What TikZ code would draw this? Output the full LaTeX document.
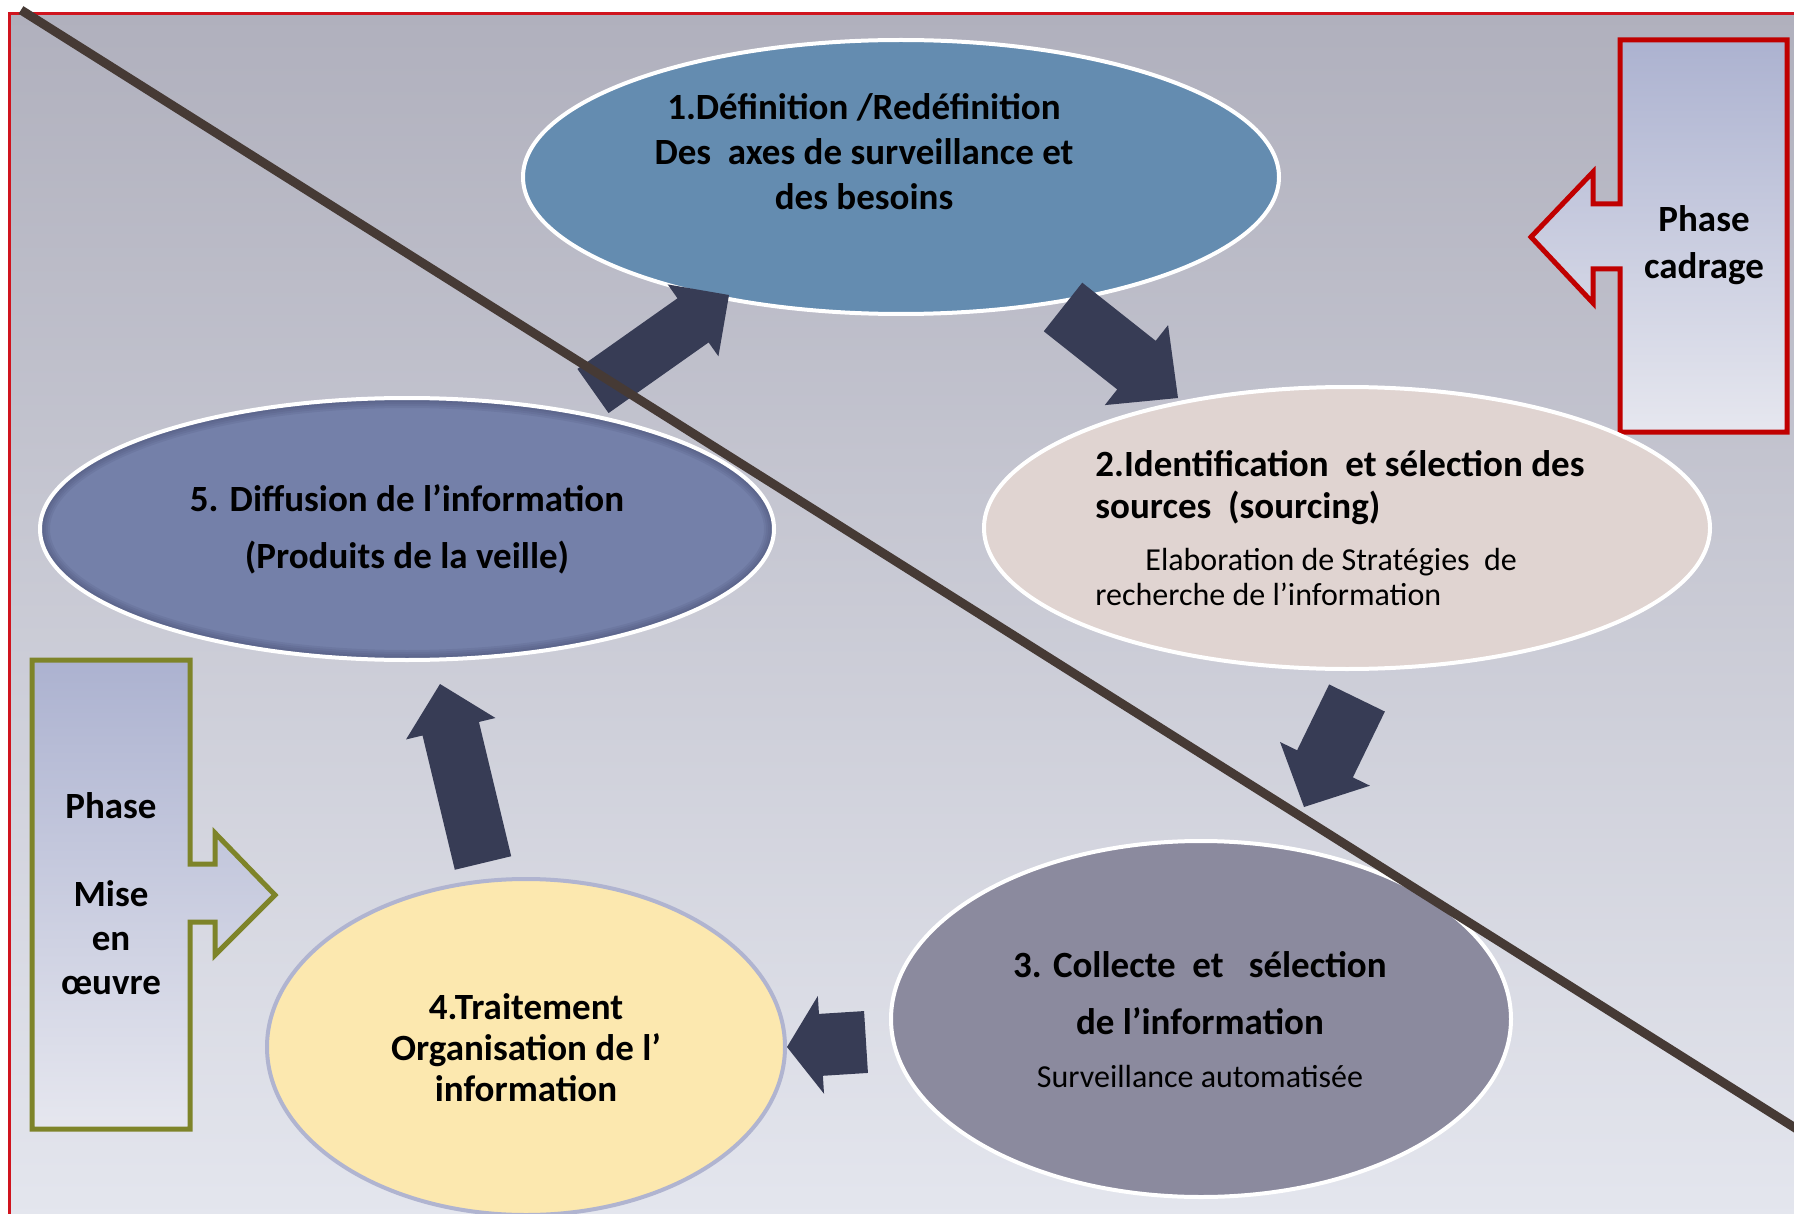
\documentclass[tikz,border=0pt]{standalone}
\usepackage{fontspec}
\setmainfont{Carlito}
\usetikzlibrary{shapes.geometric,calc}
\definecolor{bgtop}{HTML}{B0B0BD}
\definecolor{bgbot}{HTML}{E4E6EE}
\definecolor{framered}{HTML}{D0141E}
\definecolor{cadred}{HTML}{C00000}
\definecolor{olive}{HTML}{7E8429}
\definecolor{boxtop}{HTML}{ACB2D0}
\definecolor{boxbot}{HTML}{E6E7EF}
\definecolor{cone}{HTML}{648CB0}
\definecolor{ctwo}{HTML}{E0D4D1}
\definecolor{cthree}{HTML}{8B8A9E}
\definecolor{cfour}{HTML}{FCE8AF}
\definecolor{cfourrim}{HTML}{B0B4D0}
\definecolor{cfive}{HTML}{7480A9}
\definecolor{cfiveshadow}{HTML}{3E4668}
\definecolor{arrowcol}{HTML}{373C55}
\definecolor{diagcol}{HTML}{463A35}
\newcommand{\blockarr}[5]{%
  \coordinate (ba-h) at ($(#2)!#5!(#1)$);
  \fill[arrowcol] ($(#1)!#3!90:(#2)$) -- ($(ba-h)!#3!90:(#2)$) -- ($(ba-h)!#4!90:(#2)$)
    -- (#2) -- ($(ba-h)!#4!-90:(#2)$) -- ($(ba-h)!#3!-90:(#2)$) -- ($(#1)!#3!-90:(#2)$) -- cycle;}
\begin{document}
\begin{tikzpicture}[x=0.5pt,y=-0.5pt,
  bubble/.style={ellipse, draw=white, line width=2pt, inner sep=0pt},
  btxt/.style={font=\fontsize{18.5}{22.5}\selectfont\bfseries, align=center, inner sep=0pt},
  rtxt/.style={font=\fontsize{16}{17.5}\selectfont, align=center, inner sep=0pt},
  phasebox/.style={top color=boxtop, bottom color=boxbot, line width=2.5pt, line join=miter}]
\useasboundingbox (0,0) rectangle (1794,1214);
\fill[white] (0,0) rectangle (1794,1214);
\shade[top color=bgtop, bottom color=bgbot] (9,13) rectangle (1800,1220);
\draw[framered, line width=1.3pt] (9.5,1220) -- (9.5,13.5) -- (1800,13.5);

% phase boxes
\path[phasebox, draw=cadred] (1620,40) -- (1787,40) -- (1787,432) -- (1620,432) -- (1620,269)
  -- (1593,269) -- (1593,303) -- (1531,237) -- (1593,172) -- (1593,204) -- (1620,204) -- cycle;
\node[btxt, font=\fontsize{18.5}{23.5}\selectfont\bfseries] (pc) at (1704,245) {Phase\\cadrage};
\path[phasebox, draw=olive] (32,660) -- (190,660) -- (190,864) -- (215,864) -- (215,833) -- (275,895)
  -- (215,955) -- (215,922) -- (190,922) -- (190,1129) -- (32,1129) -- cycle;
\node[btxt, font=\fontsize{18.5}{22}\selectfont\bfseries] (pm) at (111,894) {Phase\\[22pt]Mise\\en\\œuvre};

% ellipses
\node[bubble, fill=cone, minimum width=378pt, minimum height=137pt] (e1) at (901,177) {};
\node[bubble, fill=ctwo, minimum width=363pt, minimum height=141pt] (e2) at (1347,528) {};
\node[bubble, fill=cthree, minimum width=310pt, minimum height=178pt] (e3) at (1201,1019) {};
\node[bubble, draw=cfourrim, fill=cfour, minimum width=259pt, minimum height=168pt] (e4) at (526,1047) {};
\node[bubble, draw=none, fill=cfive, minimum width=367pt, minimum height=131pt] (e5) at (407,529) {};
\begin{scope}
  \clip (e5.center) ellipse [x radius=183.5pt, y radius=65.5pt];
  \foreach \w in {2,4,6,8,10} {
    \draw[cfiveshadow, opacity=0.12, line width=\w pt] (e5.center) ellipse [x radius=183.5pt, y radius=65.5pt];
  }
\end{scope}
\draw[white, line width=2pt] (e5.center) ellipse [x radius=183.5pt, y radius=65.5pt];

% texts
\node[btxt] (t1) at (864,152) {1.Définition /Redéfinition\\Des\ \ axes de surveillance et\\des besoins};
\node[btxt, align=left, anchor=west, font=\fontsize{18.5}{21}\selectfont\bfseries] (t2a) at (1095,488)
  {2.Identification\ \ et sélection des\\sources\ \ (sourcing)};
\node[rtxt, align=left, anchor=west] (t2b) at (1095,577)
  {\hspace*{25pt}Elaboration de Stratégies\ \ de\\recherche de l’information};
\node[btxt, font=\fontsize{18.5}{28.5}\selectfont\bfseries] (t3a) at (1200,993)
  {3. Collecte\ \ et\ \ \ sélection\\de l’information};
\node[rtxt] (t3b) at (1200,1076) {Surveillance automatisée};
\node[btxt, font=\fontsize{18.5}{20.5}\selectfont\bfseries] (t4) at (526,1048)
  {4.Traitement\\Organisation de l’\\information};
\node[btxt, font=\fontsize{18.5}{28.5}\selectfont\bfseries] (t5) at (407,529)
  {5. Diffusion de l’information\\(Produits de la veille)};

% block arrows
\coordinate (a12t) at (1063,307); \coordinate (a12p) at (1178,398);
\coordinate (a23t) at (1357,698); \coordinate (a23p) at (1304,807);
\coordinate (a34t) at (866,1042); \coordinate (a34p) at (787,1047);
\coordinate (a45t) at (483,863);  \coordinate (a45p) at (440,684);
\coordinate (a51t) at (593,391);  \coordinate (a51p) at (729,295);
\blockarr{a12t}{a12p}{15.5pt}{25.5pt}{26.5pt}
\blockarr{a23t}{a23p}{15.5pt}{25pt}{24pt}
\blockarr{a34t}{a34p}{15.5pt}{24.5pt}{17pt}
\blockarr{a45t}{a45p}{14.5pt}{23pt}{23pt}
\blockarr{a51t}{a51p}{13.5pt}{22pt}{22pt}

% diagonal line
\coordinate (d1) at (21,10);
\coordinate (d2) at (1800,1131);
\draw[diagcol, line width=4.5pt] (d1) -- (d2);
\end{tikzpicture}
\end{document}
